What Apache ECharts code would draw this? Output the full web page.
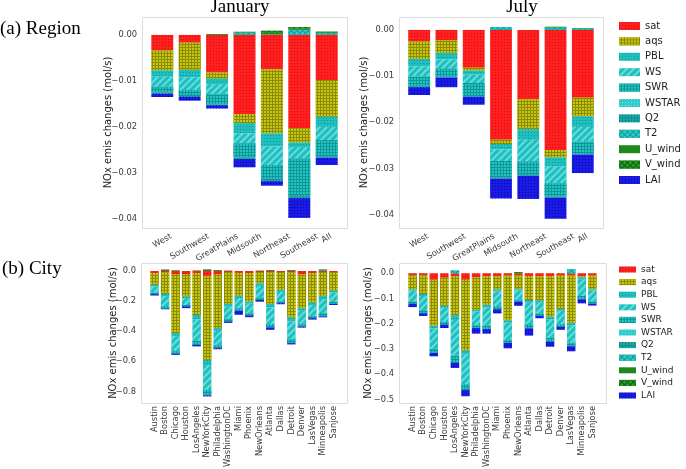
<!DOCTYPE html>
<html><head><meta charset="utf-8">
<script src="https://cdn.jsdelivr.net/npm/echarts@6/dist/echarts.min.js"></script>
<style>html,body{margin:0;padding:0;background:#fff}#c{width:686px;height:469px}</style>
</head><body><div id="c"></div>
<script>
// ---------- categories / labels ----------
const regionCats = ['West','Southwest','GreatPlains','Midsouth','Northeast','Southeast','All'];
const cityCats = ['Austin','Boston','Chicago','Houston','LosAngeles','NewYorkCity','Philadelphia','WashingtonDC','Miami','Phoenix','NewOrleans','Atlanta','Dallas','Detroit','Denver','LasVegas','Minneapolis','Sanjose'];
const factorNames = ['sat','aqs','PBL','WS','SWR','WSTAR','Q2','T2','U_wind','V_wind','LAI'];
const regionTicks = [0, -0.01, -0.02, -0.03, -0.04];
const cityJanTicks = [0, -0.2, -0.4, -0.6, -0.8];
const cityJulTicks = [0, -0.1, -0.2, -0.3, -0.4, -0.5];
const panelTitles = ['January', 'July'];
const rowLabels = ['(a) Region', '(b) City'];
const yName = 'NOx emis changes (mol/s)';

// ---------- (a) Region, January ----------
const janRegion_sat    = [-0.0034, -0.0017, -0.0082, -0.0172, -0.0075, -0.0203, -0.0098];
const janRegion_aqs    = [-0.0043, -0.0059, -0.0013, -0.0020, -0.0139, -0.0031, -0.0080];
const janRegion_PBL    = [-0.0014, -0.0016, -0.0012, -0.0022, -0.0029, -0.0010, -0.0022];
const janRegion_WS     = [-0.0022, -0.0028, -0.0022, -0.0022, -0.0040, -0.0025, -0.0029];
const janRegion_SWR    = [-0.0012, -0.0013, -0.0022, -0.0030, -0.0033, -0.0080, -0.0036];
const janRegion_WSTAR  = [0, 0, 0, 0, 0, 0, 0];
const janRegion_Q2     = [-0.0003, -0.0002, -0.0002, -0.0004, -0.0002, -0.0006, -0.0002];
const janRegion_T2     = [0, 0, 0, 0.0005, 0.0001, 0.0011, 0.0004];
const janRegion_U_wind = [0, 0, 0.0002, 0.0002, 0.0004, 0.0003, 0.0002];
const janRegion_V_wind = [0, 0, 0, 0, 0.0004, 0.0003, 0.0001];
const janRegion_LAI    = [-0.0007, -0.0008, -0.0007, -0.0018, -0.0010, -0.0043, -0.0016];

// ---------- (a) Region, July ----------
const julRegion_sat    = [-0.0025, -0.0023, -0.0082, -0.0238, -0.0150, -0.0260, -0.0147];
const julRegion_aqs    = [-0.0038, -0.0027, -0.0006, -0.0009, -0.0065, -0.0016, -0.0040];
const julRegion_PBL    = [-0.0016, -0.0014, -0.0009, -0.0012, -0.0023, -0.0020, -0.0023];
const julRegion_WS     = [-0.0022, -0.0020, -0.0018, -0.0025, -0.0047, -0.0036, -0.0032];
const julRegion_SWR    = [-0.0022, -0.0018, -0.0029, -0.0036, -0.0029, -0.0029, -0.0027];
const julRegion_WSTAR  = [0, 0, 0, 0, 0, 0, 0];
const julRegion_Q2     = [-0.0001, -0.0001, -0.0001, -0.0002, -0.0002, -0.0002, -0.0001];
const julRegion_T2     = [0, 0, 0, 0.0006, 0, 0.0005, 0.0003];
const julRegion_U_wind = [0, 0, 0, 0, 0, 0.0002, 0.0001];
const julRegion_V_wind = [0, 0, 0, 0, 0, 0, 0];
const julRegion_LAI    = [-0.0017, -0.0021, -0.0017, -0.0043, -0.0050, -0.0046, -0.0040];

// ---------- (b) City, January ----------
const janCity_sat    = [-0.015, -0.011, -0.020, -0.020, -0.015, -0.033, -0.020, -0.007, -0.013, -0.015, -0.007, -0.011, -0.007, -0.011, -0.022, -0.015, -0.007, -0.007];
const janCity_aqs    = [-0.077, -0.141, -0.393, -0.150, -0.278, -0.557, -0.358, -0.212, -0.152, -0.188, -0.075, -0.208, -0.119, -0.298, -0.225, -0.195, -0.159, -0.124];
const janCity_PBL    = [-0.010, -0.015, -0.020, -0.010, -0.030, -0.035, -0.020, -0.018, -0.015, -0.014, -0.017, -0.024, -0.013, -0.026, -0.018, -0.016, -0.020, -0.013];
const janCity_WS     = [-0.042, -0.067, -0.097, -0.046, -0.139, -0.166, -0.095, -0.081, -0.069, -0.065, -0.077, -0.109, -0.062, -0.118, -0.086, -0.072, -0.095, -0.062];
const janCity_SWR    = [-0.010, -0.015, -0.020, -0.010, -0.030, -0.035, -0.020, -0.018, -0.015, -0.014, -0.017, -0.024, -0.013, -0.026, -0.018, -0.016, -0.020, -0.013];
const janCity_WSTAR  = [0, 0, 0, 0, 0, 0, 0, 0, 0, 0, 0, 0, 0, 0, 0, 0, 0, 0];
const janCity_Q2     = [0, 0, 0, 0, 0, 0, 0, 0, 0, 0, 0, 0, 0, 0, 0, 0, 0, 0];
const janCity_T2     = [0, 0, 0, 0, 0, 0, 0, 0, 0, 0, 0, 0, 0, 0, 0, 0, 0.005, 0];
const janCity_U_wind = [0, 0.010, 0.005, 0, 0.004, 0.011, 0.006, 0.003, 0, 0, 0.003, 0.006, 0, 0.006, 0, 0, 0.006, 0];
const janCity_V_wind = [0, 0, 0, 0, 0, 0, 0, 0, 0, 0, 0, 0, 0, 0, 0, 0, 0, 0];
const janCity_LAI    = [-0.009, -0.005, -0.007, -0.011, -0.009, -0.007, -0.007, -0.009, -0.027, -0.011, -0.011, -0.015, -0.007, -0.009, -0.007, -0.009, -0.007, -0.007];

// ---------- (b) City, July ----------
const julCity_sat    = [-0.008, -0.008, -0.026, -0.018, -0.011, -0.026, -0.016, -0.011, -0.011, -0.008, -0.008, -0.011, -0.011, -0.011, -0.008, -0.008, -0.013, -0.008];
const julCity_aqs    = [-0.055, -0.074, -0.182, -0.111, -0.155, -0.280, -0.129, -0.114, -0.053, -0.179, -0.055, -0.095, -0.097, -0.161, -0.134, -0.189, -0.003, -0.055];
const julCity_PBL    = [-0.006, -0.008, -0.011, -0.008, -0.019, -0.016, -0.007, -0.010, -0.008, -0.009, -0.005, -0.011, -0.006, -0.010, -0.007, -0.009, -0.009, -0.006];
const julCity_WS     = [-0.043, -0.057, -0.081, -0.056, -0.142, -0.118, -0.054, -0.072, -0.059, -0.067, -0.037, -0.084, -0.046, -0.074, -0.053, -0.069, -0.065, -0.043];
const julCity_SWR    = [-0.009, -0.011, -0.016, -0.011, -0.028, -0.023, -0.011, -0.014, -0.012, -0.013, -0.007, -0.017, -0.009, -0.015, -0.011, -0.014, -0.013, -0.009];
const julCity_WSTAR  = [0, 0, 0, 0, 0, 0, 0, 0, 0, 0, 0, 0, 0, 0, 0, 0, 0, 0];
const julCity_Q2     = [0, 0, 0, 0, 0, 0, 0, 0, 0, 0, 0, 0, 0, 0, 0, 0, 0, 0];
const julCity_T2     = [0, 0, 0, 0, 0.011, 0, 0, 0, 0, 0, 0, 0, 0, 0, 0, 0.016, 0, 0];
const julCity_U_wind = [0, 0, 0, 0, 0, 0, 0, 0, 0, 0, 0.005, 0, 0, 0, 0, 0, 0, 0];
const julCity_V_wind = [0, 0, 0, 0, 0, 0, 0, 0, 0, 0, 0, 0, 0, 0, 0, 0, 0, 0];
const julCity_LAI    = [-0.013, -0.011, -0.013, -0.013, -0.020, -0.024, -0.022, -0.018, -0.016, -0.021, -0.017, -0.029, -0.009, -0.020, -0.011, -0.020, -0.016, -0.007];

// ---------- styles (hatch approximations) ----------
const dots = (c) => ({symbol:'rect', symbolSize:1, dashArrayX:[1,2], dashArrayY:[1,2], color:c});
const mesh = (c, bg) => ({symbol:'rect', symbolSize:1, dashArrayX:[2,1], dashArrayY:[2,1], color:c, backgroundColor:bg});
const diag = (c) => ({symbol:'rect', symbolSize:1, dashArrayX:[1,0], dashArrayY:[2,3], rotation:-Math.PI/4, color:c});
const cross = (c, bg) => ({symbol:'rect', symbolSize:1, dashArrayX:[3,1], dashArrayY:[3,1], rotation:Math.PI/4, color:c, backgroundColor:bg});
const factorStyles = {
  sat:    {color:'#ff1f1f', decal: dots('rgba(150,0,0,0.45)')},
  aqs:    {color:'#bfbf00', decal: mesh('#c6c61a', '#8c8c00')},
  PBL:    {color:'#1fbfbf', decal: dots('rgba(0,100,100,0.45)')},
  WS:     {color:'#1fbfbf', decal: diag('rgba(190,255,255,0.45)')},
  SWR:    {color:'#1fbfbf', decal: mesh('#22c4c4', '#0f9797')},
  WSTAR:  {color:'#2fcaca', decal: dots('rgba(255,255,255,0.45)')},
  Q2:     {color:'#16a3a3', decal: dots('rgba(0,50,50,0.6)')},
  T2:     {color:'#1fbfbf', decal: cross('#2ccaca', '#139a9a')},
  U_wind: {color:'#1e8a1e', decal: null},
  V_wind: {color:'#1e8a1e', decal: cross('#259a25', '#106010')},
  LAI:    {color:'#1a1ae8', decal: dots('rgba(0,0,80,0.6)')}
};

const fontSans = 'DejaVu Sans';
const tickFontSize = 8.3;

const panelValues = [
  {sat:janRegion_sat, aqs:janRegion_aqs, PBL:janRegion_PBL, WS:janRegion_WS, SWR:janRegion_SWR, WSTAR:janRegion_WSTAR, Q2:janRegion_Q2, T2:janRegion_T2, U_wind:janRegion_U_wind, V_wind:janRegion_V_wind, LAI:janRegion_LAI},
  {sat:julRegion_sat, aqs:julRegion_aqs, PBL:julRegion_PBL, WS:julRegion_WS, SWR:julRegion_SWR, WSTAR:julRegion_WSTAR, Q2:julRegion_Q2, T2:julRegion_T2, U_wind:julRegion_U_wind, V_wind:julRegion_V_wind, LAI:julRegion_LAI},
  {sat:janCity_sat, aqs:janCity_aqs, PBL:janCity_PBL, WS:janCity_WS, SWR:janCity_SWR, WSTAR:janCity_WSTAR, Q2:janCity_Q2, T2:janCity_T2, U_wind:janCity_U_wind, V_wind:janCity_V_wind, LAI:janCity_LAI},
  {sat:julCity_sat, aqs:julCity_aqs, PBL:julCity_PBL, WS:julCity_WS, SWR:julCity_SWR, WSTAR:julCity_WSTAR, Q2:julCity_Q2, T2:julCity_T2, U_wind:julCity_U_wind, V_wind:julCity_V_wind, LAI:julCity_LAI}
];

const panels = [
  {cats: regionCats, ticks: regionTicks, dec: 2, frame:{left:142, top:17, width:205, height:211}, pad:0.74, yMin:-0.042, yMax:0.0039, nameGap:29, kind:'region'},
  {cats: regionCats, ticks: regionTicks, dec: 2, frame:{left:399, top:17, width:204, height:211}, pad:0.74, yMin:-0.0429, yMax:0.0028, nameGap:30, kind:'region'},
  {cats: cityCats, ticks: cityJanTicks, dec: 1, frame:{left:141, top:263, width:206, height:140}, pad:1.29, yMin:-0.877, yMax:0.053, nameGap:23, kind:'city'},
  {cats: cityCats, ticks: cityJulTicks, dec: 1, frame:{left:399, top:263, width:207, height:140}, pad:1.29, yMin:-0.514, yMax:0.0407, nameGap:26, kind:'city'}
];

const ctx = document.createElement('canvas').getContext('2d');
ctx.font = tickFontSize + 'px "' + fontSans + '"';
const measure = (t) => ctx.measureText(t).width;

function fmt(v, dec){
  if (Math.abs(v) < 1e-12) return (0).toFixed(dec);
  return (v < 0 ? '\u2212' : '') + Math.abs(v).toFixed(dec);
}

const grids = [], xAxes = [], yAxes = [], series = [], graphics = [];
panels.forEach((p, k) => {
  const n = p.cats.length;
  const band = p.frame.width / (n - 1 + 2 * p.pad);
  const shift = (p.pad - 0.5) * band;
  grids.push({left: p.frame.left + shift, top: p.frame.top, width: n * band, height: p.frame.height, outerBoundsMode:'none', containLabel:false});
  let axisLabel;
  if (p.kind === 'region') {
    const rich = {};
    p.cats.forEach((c, i) => {
      const w = measure(c);
      rich['r' + i] = {padding:[0.433 * w, 0.25 * w, 0, 0], fontSize: tickFontSize, fontFamily: fontSans, color:'#3a3a3a', lineHeight:10};
    });
    axisLabel = {interval:0, rotate:30, align:'center', verticalAlign:'middle', margin:7.8, hideOverlap:false,
      formatter:(v, i) => '{r' + i + '|' + v + '}', rich};
  } else {
    axisLabel = {interval:0, rotate:90, margin:3, hideOverlap:false, fontSize: tickFontSize, fontFamily: fontSans, color:'#3a3a3a'};
  }
  xAxes.push({type:'category', gridIndex:k, data:p.cats, axisLine:{show:false}, axisTick:{show:false}, splitLine:{show:false}, axisLabel});
  yAxes.push({type:'value', gridIndex:k, min:p.yMin, max:p.yMax, offset: shift,
    name: yName, nameLocation:'middle', nameGap:p.nameGap, nameMoveOverlap:false,
    nameTextStyle:{fontSize:10, fontFamily:fontSans, color:'#222'},
    axisLine:{show:false}, axisTick:{show:false}, splitLine:{show:false},
    axisLabel:{customValues:p.ticks, formatter:(v) => fmt(v, p.dec), fontSize:tickFontSize, fontFamily:fontSans, color:'#3a3a3a', margin:5}});
  factorNames.forEach(name => {
    series.push({type:'bar', name, xAxisIndex:k, yAxisIndex:k, stack:'p' + k, barWidth:'80%',
      data: panelValues[k][name], itemStyle: factorStyles[name], emphasis:{disabled:true}});
  });
  graphics.push({type:'rect', silent:true, z:-10, shape:{x:p.frame.left + 0.5, y:p.frame.top + 0.5, width:p.frame.width, height:p.frame.height},
    style:{fill:null, stroke:'#dddddd', lineWidth:1}});
});

const serif = '"Liberation Serif", "DejaVu Serif", serif';
graphics.push({type:'text', x:240, y:7, style:{text:panelTitles[0], font:'19px ' + serif, fill:'#000', align:'center', verticalAlign:'middle'}});
graphics.push({type:'text', x:522, y:7, style:{text:panelTitles[1], font:'19px ' + serif, fill:'#000', align:'center', verticalAlign:'middle'}});
graphics.push({type:'text', x:0, y:29, style:{text:rowLabels[0], font:'19px ' + serif, fill:'#000', align:'left', verticalAlign:'middle'}});
graphics.push({type:'text', x:2, y:269, style:{text:rowLabels[1], font:'19px ' + serif, fill:'#000', align:'left', verticalAlign:'middle'}});

const chart = echarts.init(document.getElementById('c'), null, {renderer:'canvas'});
chart.setOption({
  animation:false,
  backgroundColor:'#fff',
  grid: grids, xAxis: xAxes, yAxis: yAxes, series,
  legend: [
    {data: factorNames, orient:'vertical', left:614, top:16, itemWidth:21, itemHeight:8, itemGap:5.4, icon:'rect', selectedMode:false,
     textStyle:{fontSize:10, fontFamily:fontSans, color:'#222', lineHeight:10}},
    {data: factorNames, orient:'vertical', left:614, top:260, itemWidth:17, itemHeight:6, itemGap:3.6, icon:'rect', selectedMode:false,
     textStyle:{fontSize:9, fontFamily:fontSans, color:'#222', lineHeight:9}}
  ],
  graphic: graphics
});
</script>
</body></html>
